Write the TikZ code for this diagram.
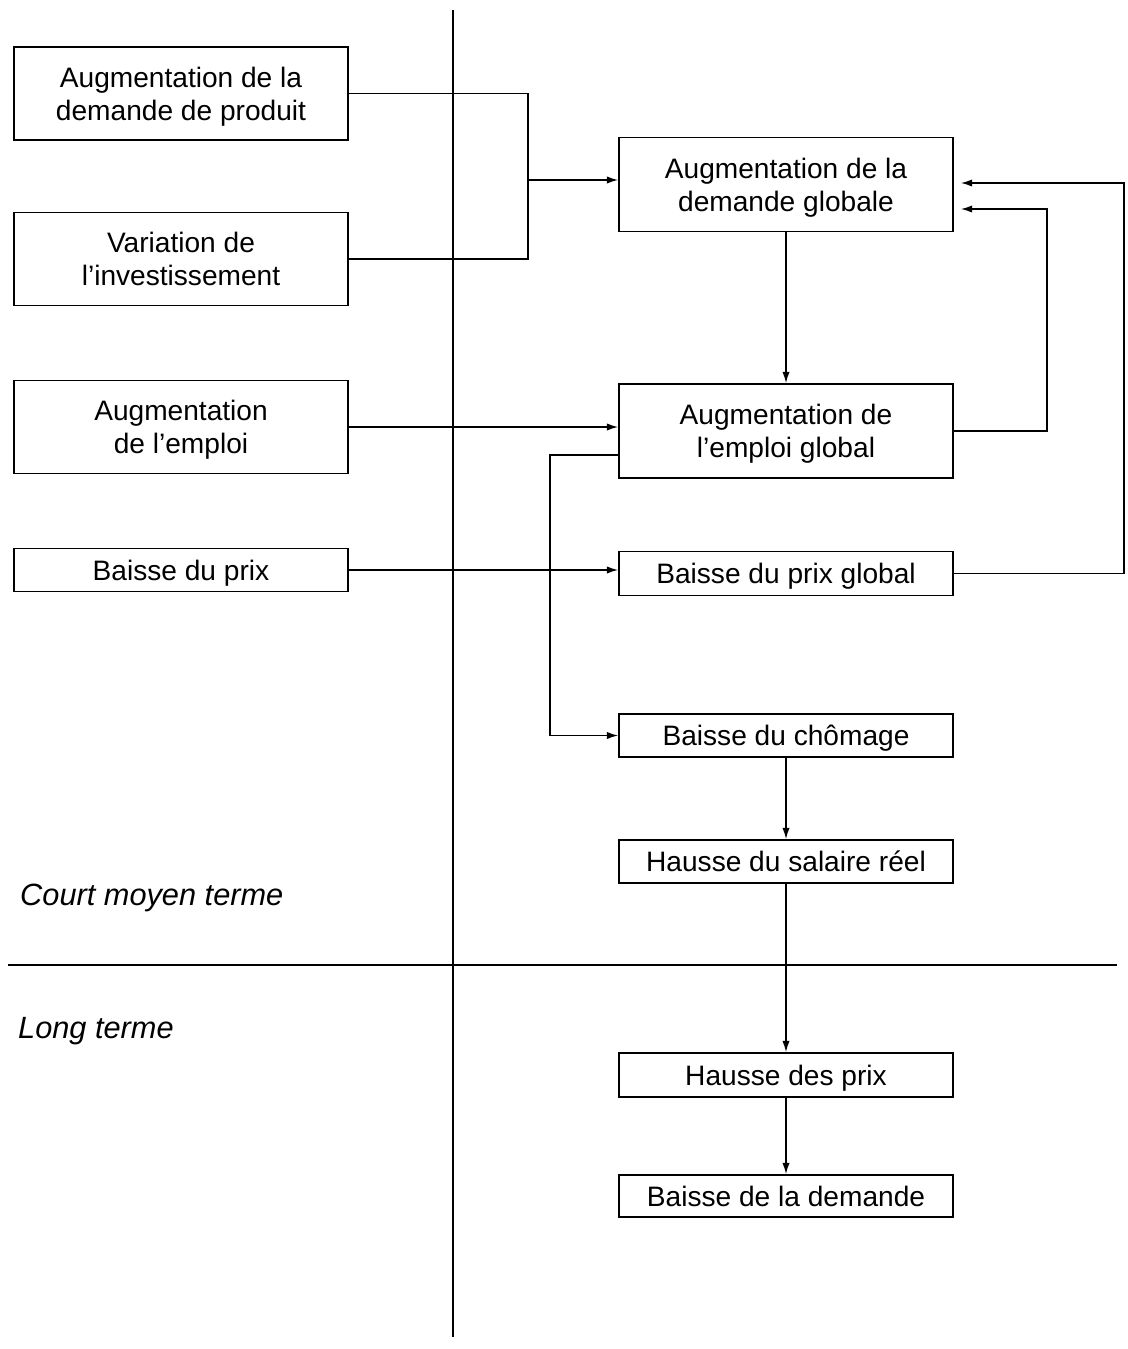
\documentclass[tikz,border=0pt]{standalone}
\usepackage{fontspec}
\setmainfont{Liberation Sans}
\usetikzlibrary{arrows.meta}

\begin{document}
\begin{tikzpicture}[x=0.02cm,y=-0.02cm]

      \useasboundingbox (0,0) rectangle (1128,1349);

      % separations
      \begin{scope}[line width=0.9pt]
        \draw (453,10) -- (453,1337);
        \draw (8,965) -- (1117,965);
      \end{scope}

      \begin{scope}[every node/.style={anchor=west,font=\fontsize{17.5}{21}\selectfont\itshape}]
        \node (court) at (14,898)  {Court moyen terme};
        \node (long)  at (12,1031) {Long terme};
      \end{scope}

      \begin{scope}[every node/.style={draw,line width=0.9pt,inner sep=0pt,text depth=0pt,
          minimum width=6.68cm,align=center,font=\fontsize{16}{18.8}\selectfont}]
        % court moyen terme, gauche
        \node[minimum height=1.86cm] (prod)   at (181,93.5) {Augmentation de la\\demande de produit};
        \node[minimum height=1.86cm] (invest) at (181,259)  {Variation de\\l’investissement};
        \node[minimum height=1.86cm] (emploi) at (181,427)  {Augmentation\\de l’emploi};
        \node[minimum height=0.86cm] (prix)   at (181,570)  {Baisse du prix};
        % court moyen terme, droite
        \node[minimum height=1.88cm] (dglob)  at (786,184.5) {Augmentation de la\\demande globale};
        \node[minimum height=1.88cm] (eglob)  at (786,431)   {Augmentation de\\l’emploi global};
        \node[minimum height=0.88cm] (pglob)  at (786,573.5) {Baisse du prix global};
        \node[minimum height=0.86cm] (chom)   at (786,735.5) {Baisse du chômage};
        \node[minimum height=0.86cm] (sal)    at (786,861.5) {Hausse du salaire réel};
        % long terme
        \node[minimum height=0.88cm] (hprix)  at (786,1075)  {Hausse des prix};
        \node[minimum height=0.84cm] (bdem)   at (786,1196)  {Baisse de la demande};
      \end{scope}

      \coordinate (j)  at (528,180);
      \coordinate (k)  at (550,455);
      \coordinate (r1) at (1047,209);
      \coordinate (r2) at (1124,183);

      \begin{scope}[line width=0.9pt,>={Latex[length=6.5pt,width=4.2pt]}]
        \draw (prod.east) -| (j) |- (invest.east);
        \draw[->] (j) -- (dglob.west |- j);
        \draw[->] (emploi.east) -- (eglob.west |- emploi.east);
        \draw[->] (prix.east) -- (pglob.west |- prix.east);
        \draw[->] (eglob.west |- k) -- (k) |- (chom.west);
        \draw[->] (dglob.south) -- (eglob.north);
        \draw[->,shorten >=4pt] (eglob.east) -| (r1) -- (dglob.east |- r1);
        \draw[->,shorten >=4pt] (pglob.east) -| (r2) -- (dglob.east |- r2);
        \draw[->] (chom.south) -- (sal.north);
        \draw[->] (sal.south) -- (hprix.north);
        \draw[->] (hprix.south) -- (bdem.north);
      \end{scope}

    \end{tikzpicture}
\end{document}
